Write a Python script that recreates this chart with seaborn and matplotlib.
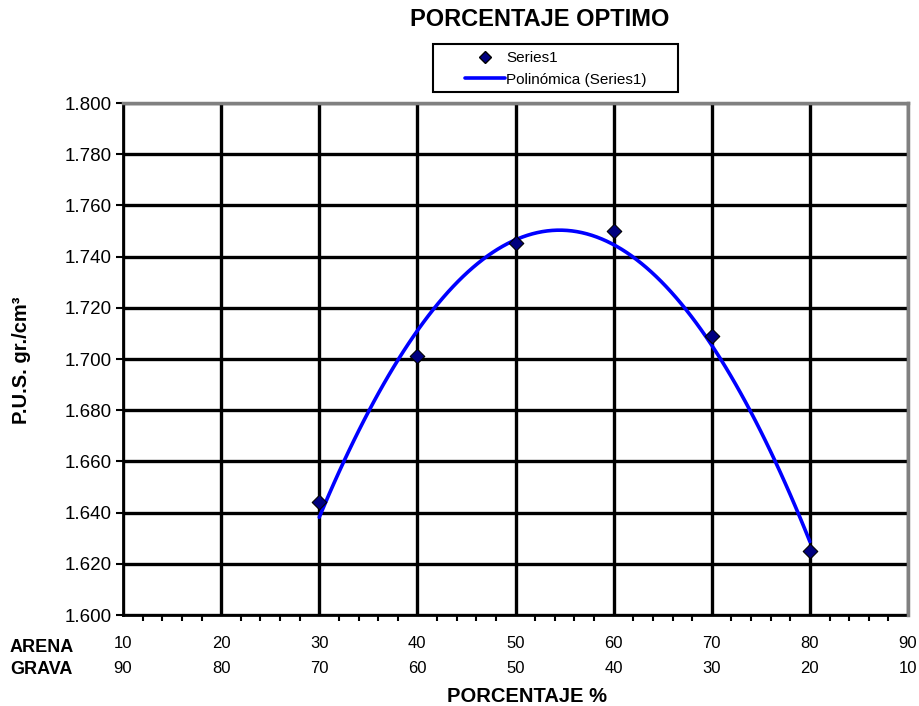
import matplotlib
matplotlib.use("Agg")
import matplotlib.pyplot as plt
import seaborn as sns
import numpy as np
import pandas as pd
from matplotlib.ticker import MultipleLocator, FormatStrFormatter
from matplotlib.lines import Line2D
from matplotlib.patches import Rectangle

# ---- data ----
arena = [30, 40, 50, 60, 70, 80]
pus = [1.644, 1.701, 1.7455, 1.750, 1.709, 1.625]
arena_ticks = [10, 20, 30, 40, 50, 60, 70, 80, 90]
grava_ticks = [90, 80, 70, 60, 50, 40, 30, 20, 10]
y_ticks = [1.600, 1.620, 1.640, 1.660, 1.680, 1.700, 1.720, 1.740, 1.760, 1.780, 1.800]

df = pd.DataFrame({"arena": arena, "pus": pus})

sns.set_theme(style="white")
plt.rcParams['font.family'] = ['Liberation Sans', 'DejaVu Sans']
plt.rcParams['text.color'] = 'black'
plt.rcParams['xtick.color'] = 'black'
plt.rcParams['ytick.color'] = 'black'

fig = plt.figure(figsize=(9.2, 7.06), dpi=100)
ax = fig.add_axes([123/920, 1 - 615/706, (908 - 123)/920, (615 - 103)/706])

ax.set_xlim(10, 90)
ax.set_ylim(1.600, 1.800)
ax.set_yticks(y_ticks)
ax.yaxis.set_major_formatter(FormatStrFormatter('%.3f'))
ax.set_xticks(arena_ticks)
ax.set_xticklabels([f"{a}\n{g}" for a, g in zip(arena_ticks, grava_ticks)],
                   linespacing=1.85)
ax.xaxis.set_minor_locator(MultipleLocator(2))

ax.grid(True, which='major', color='black', linewidth=2.4)
ax.set_axisbelow(True)

sns.regplot(data=df, x="arena", y="pus", order=2, ci=None, scatter=False,
            truncate=True, ax=ax, line_kws=dict(color='#0000FF', linewidth=2.6))
sns.scatterplot(data=df, x="arena", y="pus", marker='D', s=55, color='#000080',
                edgecolor='black', linewidth=0.8, ax=ax, zorder=5)

ax.set_xlabel("")
ax.set_ylabel("")
ax.tick_params(axis='x', which='major', direction='out', length=5, width=1.5,
               labelsize=12, pad=10, colors='black')
ax.tick_params(axis='x', which='minor', direction='out', length=4, width=1.5,
               bottom=True, color='black')
ax.tick_params(axis='y', which='major', direction='out', length=5, width=1.5,
               labelsize=13.5, pad=3, colors='black', left=True)

for s in ['left', 'bottom']:
    ax.spines[s].set_color('black')
    ax.spines[s].set_linewidth(2)
for s in ['top', 'right']:
    ax.spines[s].set_color('#808080')
    ax.spines[s].set_linewidth(2.5)
    ax.spines[s].set_zorder(3)

fig.text(540/920, 1 - 20/706, "PORCENTAJE OPTIMO", ha='center', va='center',
         fontsize=17, fontweight='bold')
fig.text(527/920, 1 - 696/706, "PORCENTAJE %", ha='center', va='center',
         fontsize=14.5, fontweight='bold')
fig.text(22/920, 1 - 360/706, "P.U.S. gr./cm³", ha='center', va='center',
         rotation=90, fontsize=14.5, fontweight='bold')
fig.text(10/920, 1 - 648/706, "ARENA", ha='left', va='center',
         fontsize=13, fontweight='bold')
fig.text(10/920, 1 - 669/706, "GRAVA", ha='left', va='center',
         fontsize=13, fontweight='bold')

# legend
fig.patches.append(Rectangle((433/920, 1 - 92/706), (678 - 433)/920, (92 - 44)/706,
                             transform=fig.transFigure, facecolor='white',
                             edgecolor='black', linewidth=1.5, zorder=1))
handles = [
    Line2D([], [], marker='D', linestyle='none', markersize=6,
           markerfacecolor='#000080', markeredgecolor='black'),
    Line2D([], [], color='#0000FF', linewidth=2.6),
]
leg = fig.legend(handles, ["Series1", "Polinómica (Series1)"],
                 loc='upper left', bbox_to_anchor=(465/920, 1 - 51/706),
                 fontsize=11, frameon=False, handlelength=2.6,
                 handletextpad=0.1, borderpad=0, borderaxespad=0,
                 labelspacing=0.5)
leg.set_zorder(2)

fig.savefig("out.png", dpi=100)
